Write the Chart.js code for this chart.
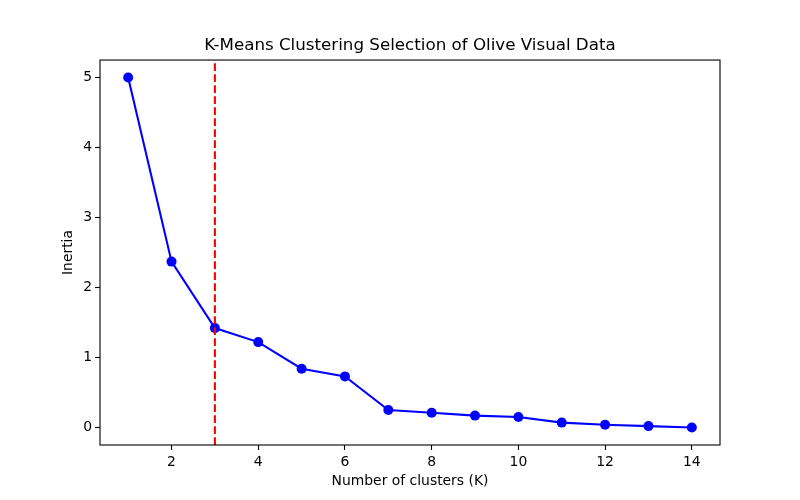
<!DOCTYPE html>
<html>
<head>
<meta charset="utf-8">
<script src="https://cdn.jsdelivr.net/npm/chart.js@4/dist/chart.umd.min.js"></script>
<style>
  html, body { margin: 0; padding: 0; background: #fff; }
  #wrap { width: 800px; height: 500px; }
</style>
</head>
<body>
<div id="wrap"><canvas id="chart-canvas"></canvas></div>
<script>
// data
const clusterCounts = [1, 2, 3, 4, 5, 6, 7, 8, 9, 10, 11, 12, 13, 14];
const inertiaValues = [5.0, 2.37, 1.42, 1.22, 0.84, 0.73, 0.25, 0.21, 0.17, 0.15, 0.07, 0.04, 0.02, 0.0];
const elbowK = 3;
const xTickValues = [2, 4, 6, 8, 10, 12, 14];
const yTickValues = [0, 1, 2, 3, 4, 5];

const fontFamily = "'DejaVu Sans', sans-serif";
const yMin = -0.25, yMax = 5.25;

// matplotlib-style frame around the plot area
const framePlugin = {
    id: 'frame',
    afterDraw: function(chart){
        const a = chart.chartArea;
        const ctx = chart.ctx;
        ctx.save();
        ctx.strokeStyle = '#000';
        ctx.lineWidth = 1.1;
        ctx.strokeRect(a.left, a.top, a.right - a.left, a.bottom - a.top);
        ctx.restore();
    }
};

const points = clusterCounts.map((k, i) => ({x: k, y: inertiaValues[i]}));

new Chart("chart-canvas", {
    type: 'line',
    data: {
        datasets: [
            {
                // elbow marker, first so it is drawn on top
                data: [{x: elbowK, y: yMin}, {x: elbowK, y: yMax}],
                borderColor: '#ff0000',
                borderWidth: 2.1,
                borderDash: [7.7, 3.3],
                pointRadius: 0,
                fill: false
            },
            {
                data: points,
                borderColor: '#0000ff',
                backgroundColor: '#0000ff',
                borderWidth: 2.1,
                pointRadius: 5,
                pointBorderWidth: 0,
                pointBackgroundColor: '#0000ff',
                fill: false,
                tension: 0
            }
        ]
    },
    options: {
        responsive: true,
        maintainAspectRatio: false,
        animation: false,
        layout: { padding: { left: 0, right: 80, top: 0, bottom: 0 } },
        plugins: {
            legend: { display: false },
            tooltip: { enabled: false },
            title: {
                display: true,
                fullSize: false,
                text: 'K-Means Clustering Selection of Olive Visual Data',
                color: '#000',
                font: { family: fontFamily, size: 16.7, weight: 'normal' },
                padding: { top: 36, bottom: 4 }
            }
        },
        scales: {
            x: {
                type: 'linear',
                min: 0.35,
                max: 14.65,
                afterBuildTicks: function(scale){
                    scale.ticks = xTickValues.map(v => ({value: v}));
                },
                afterFit: function(scale){ scale.height = 55; },
                grid: { display: true, drawOnChartArea: false, drawTicks: true, tickLength: 5, color: '#000', tickWidth: 1.1 },
                border: { display: false },
                ticks: { color: '#000', font: { family: fontFamily, size: 13.9 }, padding: 4, maxRotation: 0 },
                title: {
                    display: true,
                    text: 'Number of clusters (K)',
                    color: '#000',
                    font: { family: fontFamily, size: 13.9 },
                    padding: { top: 0, bottom: 10.7 }
                }
            },
            y: {
                type: 'linear',
                min: yMin,
                max: yMax,
                afterBuildTicks: function(scale){
                    scale.ticks = yTickValues.map(v => ({value: v}));
                },
                afterFit: function(scale){ scale.width = 100; },
                grid: { display: true, drawOnChartArea: false, drawTicks: true, tickLength: 5, color: '#000', tickWidth: 1.1 },
                border: { display: false },
                ticks: { color: '#000', font: { family: fontFamily, size: 13.9 }, padding: 3 },
                title: {
                    display: true,
                    text: 'Inertia',
                    color: '#000',
                    font: { family: fontFamily, size: 13.9 },
                    padding: { top: 60, bottom: 0 }
                }
            }
        }
    },
    plugins: [framePlugin]
});
</script>
</body>
</html>
